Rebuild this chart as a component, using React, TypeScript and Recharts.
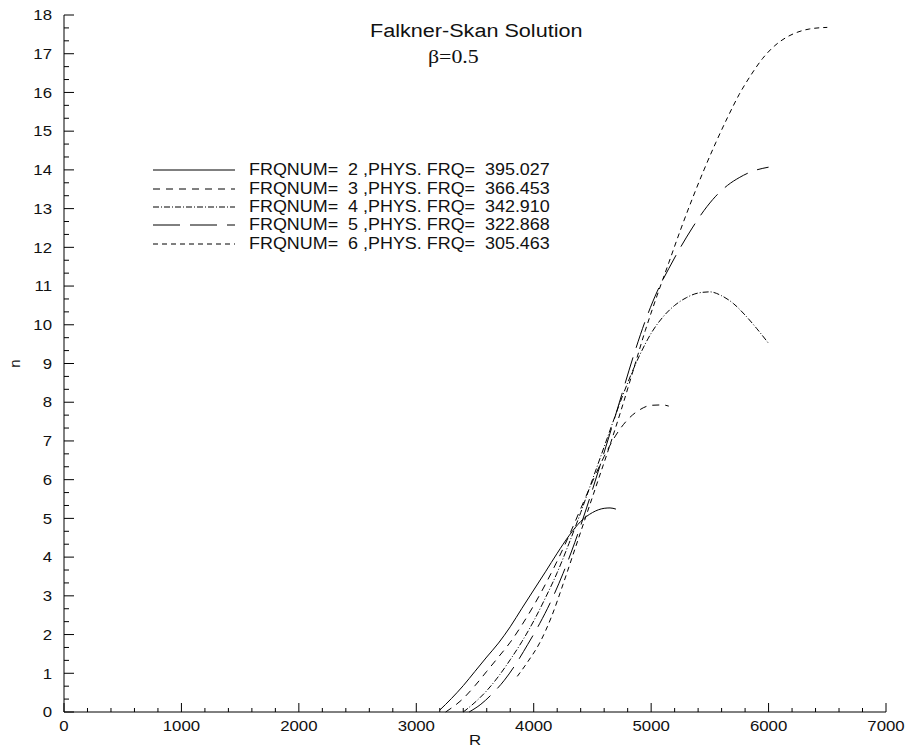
import { LineChart, Line, XAxis, YAxis, Legend } from "recharts";

type Pt = { r: number; n: number };

// n(R) for each frequency
const curve2: Pt[] = [
  { r: 3200, n: 0.05 }, { r: 3300, n: 0.35 }, { r: 3400, n: 0.68 }, { r: 3500, n: 1.05 },
  { r: 3600, n: 1.42 }, { r: 3700, n: 1.78 }, { r: 3800, n: 2.2 }, { r: 3900, n: 2.68 },
  { r: 4000, n: 3.15 }, { r: 4100, n: 3.62 }, { r: 4200, n: 4.1 }, { r: 4300, n: 4.55 },
  { r: 4400, n: 4.92 }, { r: 4500, n: 5.15 }, { r: 4600, n: 5.26 }, { r: 4650, n: 5.27 },
  { r: 4700, n: 5.24 },
];

const curve3: Pt[] = [
  { r: 3250, n: 0.0 }, { r: 3400, n: 0.35 }, { r: 3500, n: 0.68 }, { r: 3600, n: 1.05 },
  { r: 3700, n: 1.42 }, { r: 3800, n: 1.8 }, { r: 3900, n: 2.25 }, { r: 4000, n: 2.75 },
  { r: 4100, n: 3.3 }, { r: 4200, n: 3.9 }, { r: 4300, n: 4.55 }, { r: 4400, n: 5.25 },
  { r: 4500, n: 5.95 }, { r: 4600, n: 6.6 }, { r: 4700, n: 7.15 }, { r: 4800, n: 7.55 },
  { r: 4900, n: 7.8 }, { r: 5000, n: 7.92 }, { r: 5100, n: 7.93 }, { r: 5150, n: 7.9 },
];

const curve4: Pt[] = [
  { r: 3400, n: 0.0 }, { r: 3500, n: 0.25 }, { r: 3600, n: 0.55 }, { r: 3700, n: 0.92 },
  { r: 3800, n: 1.35 }, { r: 3900, n: 1.82 }, { r: 4000, n: 2.35 }, { r: 4100, n: 2.95 },
  { r: 4200, n: 3.6 }, { r: 4300, n: 4.35 }, { r: 4400, n: 5.15 }, { r: 4500, n: 6.0 },
  { r: 4600, n: 6.85 }, { r: 4700, n: 7.7 }, { r: 4800, n: 8.5 }, { r: 4900, n: 9.2 },
  { r: 5000, n: 9.78 }, { r: 5100, n: 10.2 }, { r: 5200, n: 10.5 }, { r: 5300, n: 10.7 },
  { r: 5400, n: 10.82 }, { r: 5500, n: 10.85 }, { r: 5600, n: 10.75 }, { r: 5700, n: 10.55 },
  { r: 5800, n: 10.25 }, { r: 5900, n: 9.9 }, { r: 6000, n: 9.52 },
];

const curve5: Pt[] = [
  { r: 3450, n: 0.0 }, { r: 3550, n: 0.2 }, { r: 3650, n: 0.48 }, { r: 3750, n: 0.82 },
  { r: 3850, n: 1.25 }, { r: 3950, n: 1.75 }, { r: 4050, n: 2.28 }, { r: 4150, n: 2.88 },
  { r: 4250, n: 3.58 }, { r: 4350, n: 4.38 }, { r: 4450, n: 5.27 }, { r: 4550, n: 6.22 },
  { r: 4650, n: 7.2 }, { r: 4750, n: 8.2 }, { r: 4850, n: 9.2 }, { r: 4950, n: 10.1 },
  { r: 5050, n: 10.85 }, { r: 5150, n: 11.45 }, { r: 5250, n: 12.0 }, { r: 5350, n: 12.5 },
  { r: 5450, n: 12.95 }, { r: 5550, n: 13.32 }, { r: 5650, n: 13.6 }, { r: 5750, n: 13.8 },
  { r: 5850, n: 13.95 }, { r: 6000, n: 14.07 },
];

const curve6: Pt[] = [
  { r: 3860, n: 0.92 }, { r: 3950, n: 1.3 }, { r: 4050, n: 1.78 }, { r: 4150, n: 2.45 },
  { r: 4250, n: 3.3 }, { r: 4350, n: 4.2 }, { r: 4450, n: 5.1 }, { r: 4550, n: 6.0 },
  { r: 4650, n: 6.9 }, { r: 4750, n: 7.85 }, { r: 4850, n: 8.85 }, { r: 4950, n: 9.85 },
  { r: 5050, n: 10.75 }, { r: 5150, n: 11.6 }, { r: 5250, n: 12.45 }, { r: 5350, n: 13.25 },
  { r: 5450, n: 14.0 }, { r: 5550, n: 14.7 }, { r: 5650, n: 15.35 }, { r: 5750, n: 15.95 },
  { r: 5850, n: 16.45 }, { r: 5950, n: 16.88 }, { r: 6050, n: 17.2 }, { r: 6150, n: 17.42 },
  { r: 6250, n: 17.56 }, { r: 6350, n: 17.64 }, { r: 6500, n: 17.68 },
];

const curves = [curve2, curve3, curve4, curve5, curve6];
const frqNum = [2, 3, 4, 5, 6];
const physFrq = ["395.027", "366.453", "342.910", "322.868", "305.463"];
const dashes = ["", "7 6", "6 2 1 2", "27 10", "5 4"];

const xMajor = [0, 1000, 2000, 3000, 4000, 5000, 6000, 7000];
const yMajor = [0, 1, 2, 3, 4, 5, 6, 7, 8, 9, 10, 11, 12, 13, 14, 15, 16, 17, 18];

// minor ticks: 5 per x interval, 3 per y interval
const subdivide = (major: number[], parts: number) =>
  major.flatMap((v, i) =>
    i === major.length - 1
      ? [v]
      : Array.from({ length: parts }, (_, k) => v + ((major[i + 1] - v) * k) / parts)
  );
const xTicks = subdivide(xMajor, 5);
const yTicks = subdivide(yMajor, 3);
const isMajor = (v: number, list: number[]) => list.some((m) => Math.abs(m - v) < 1e-6);

const W = 907;
const H = 747;
const MARGIN = { top: 15, right: 21, left: 0, bottom: 0 };
const Y_AXIS_W = 64;
const X_AXIS_H = 35;
const PLOT_LEFT = MARGIN.left + Y_AXIS_W;
const PLOT_BOTTOM = H - MARGIN.bottom - X_AXIS_H;

const FONT = "'Liberation Sans', Arial, sans-serif";
const WIDE = 1.12; // Helvetica output is a little wider than Liberation Sans

function XTick({ x, payload }: any) {
  const major = isMajor(payload.value, xMajor);
  return (
    <g>
      <line x1={x} x2={x} y1={PLOT_BOTTOM} y2={PLOT_BOTTOM - (major ? 9 : 4)} stroke="#000" />
      {major && (
        <text
          transform={`translate(${x},${PLOT_BOTTOM + 19}) scale(${WIDE},1)`}
          textAnchor="middle"
          fontSize={15}
          fontFamily={FONT}
          fill="#111"
        >
          {Math.round(payload.value)}
        </text>
      )}
    </g>
  );
}

function YTick({ y, payload }: any) {
  const major = isMajor(payload.value, yMajor);
  return (
    <g>
      <line x1={PLOT_LEFT} x2={PLOT_LEFT + (major ? 10 : 5)} y1={y} y2={y} stroke="#000" />
      {major && (
        <text
          transform={`translate(${PLOT_LEFT - 12},${y}) scale(${WIDE},1)`}
          dy="0.35em"
          textAnchor="end"
          fontSize={15}
          fontFamily={FONT}
          fill="#111"
        >
          {Math.round(payload.value)}
        </text>
      )}
    </g>
  );
}

function LegendBox() {
  return (
    <div style={{ fontFamily: FONT, fontSize: 16, color: "#111" }}>
      {frqNum.map((f, i) => (
        <div key={f} style={{ display: "flex", alignItems: "center", height: 18.4 }}>
          <svg width={82} height={10} style={{ marginRight: 14, flex: "none" }}>
            <line x1={0} x2={82} y1={5} y2={5} stroke="#000" strokeDasharray={dashes[i]} />
          </svg>
          <span
            style={{
              whiteSpace: "pre",
              display: "inline-block",
              transform: `scaleX(${WIDE})`,
              transformOrigin: "left center",
            }}
          >{`FRQNUM=  ${f} ,PHYS. FRQ=  ${physFrq[i]}`}</span>
        </div>
      ))}
    </div>
  );
}

const stretched = (s: number): React.CSSProperties => ({
  position: "absolute",
  whiteSpace: "nowrap",
  color: "#111",
  transform: `scaleX(${s})`,
  transformOrigin: "left center",
});

export default function App() {
  return (
    <div style={{ position: "absolute", left: 0, top: 0, width: W, height: H, background: "#fff" }}>
      <LineChart width={W} height={H} margin={MARGIN}>
        <XAxis
          type="number"
          dataKey="r"
          domain={[0, 7000]}
          ticks={xTicks}
          interval={0}
          height={X_AXIS_H}
          axisLine={{ stroke: "#000" }}
          tickLine={false}
          tick={<XTick />}
        />
        <YAxis
          type="number"
          dataKey="n"
          domain={[0, 18]}
          ticks={yTicks}
          interval={0}
          width={Y_AXIS_W}
          axisLine={{ stroke: "#000" }}
          tickLine={false}
          tick={<YTick />}
        />
        <Legend
          layout="horizontal"
          verticalAlign="middle"
          align="center"
          content={() => <LegendBox />}
          wrapperStyle={{ position: "absolute", left: 153, top: 161, width: 440 }}
        />
        {curves.map((c, i) => (
          <Line
            key={frqNum[i]}
            data={c}
            dataKey="n"
            name={`FRQNUM= ${frqNum[i]}`}
            type="monotone"
            stroke="#000"
            strokeWidth={1}
            strokeDasharray={dashes[i] || undefined}
            dot={false}
            activeDot={false}
            isAnimationActive={false}
          />
        ))}
      </LineChart>
      <div style={{ ...stretched(1.2), left: 370, top: 21, fontFamily: FONT, fontSize: 18 }}>
        Falkner-Skan Solution
      </div>
      <div style={{ ...stretched(1.15), left: 428, top: 46, fontFamily: "'Liberation Serif', serif", fontSize: 19 }}>
        β=0.5
      </div>
      <div style={{ ...stretched(WIDE), left: 469, top: 731, fontFamily: FONT, fontSize: 15 }}>R</div>
      <div
        style={{
          position: "absolute",
          left: 10,
          top: 355,
          fontFamily: FONT,
          fontSize: 15,
          color: "#111",
          transform: "rotate(-90deg)",
        }}
      >
        n
      </div>
    </div>
  );
}
